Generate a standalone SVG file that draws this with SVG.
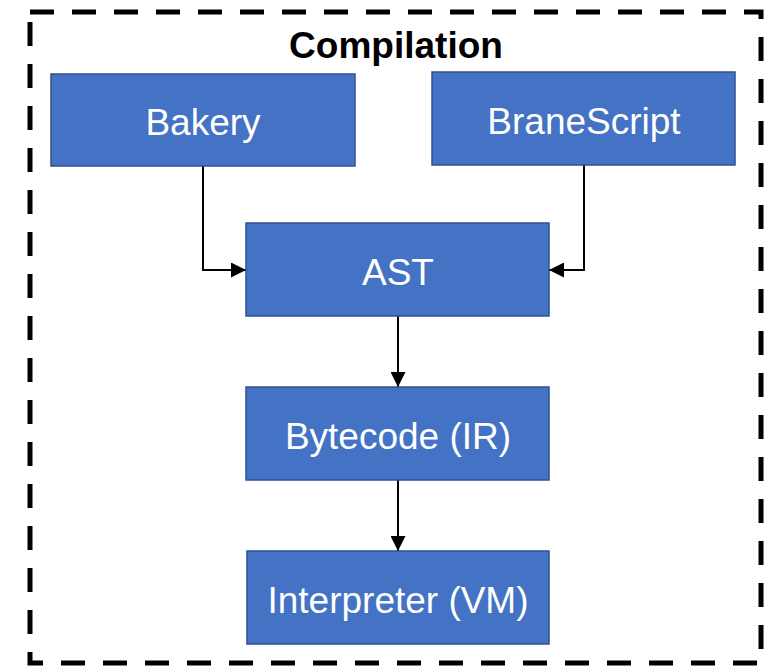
<svg xmlns="http://www.w3.org/2000/svg" width="769" height="667" viewBox="0 0 769 667">
<defs>
<style>
.node rect{fill:#4472C4;stroke:#2F528F;stroke-width:1.5}
.node text{fill:#fff;font-family:"Liberation Sans",Arial,sans-serif;font-size:37px;text-anchor:middle}
.edge{fill:none;stroke:#000;stroke-width:2}
</style>
<marker id="arr" markerWidth="15" markerHeight="15" refX="15" refY="7.5" orient="auto" markerUnits="userSpaceOnUse" viewBox="0 0 15 15">
<path d="M0,0 L15,7.5 L0,15 z" fill="#000"/>
</marker>
</defs>
<rect x="0" y="0" width="769" height="667" fill="#fff"/>
<g id="frame">
<rect x="30" y="12" width="731" height="651" fill="none" stroke="#000" stroke-width="5" stroke-dasharray="24 18"/>
<text x="396" y="58" font-family="Liberation Sans,Arial,sans-serif" font-size="37" font-weight="bold" text-anchor="middle">Compilation</text>
</g>
<g id="connectors">
<path class="edge" d="M203,166 V270 H246" marker-end="url(#arr)"/>
<path class="edge" d="M584,165 V270 H549" marker-end="url(#arr)"/>
<path class="edge" d="M398,316 V387" marker-end="url(#arr)"/>
<path class="edge" d="M398,480 V551" marker-end="url(#arr)"/>
</g>
<g id="bakery" class="node"><rect x="51" y="74" width="304" height="92"/><text x="203" y="135">Bakery</text></g>
<g id="branescript" class="node"><rect x="432" y="72" width="303" height="93"/><text x="584" y="134">BraneScript</text></g>
<g id="ast" class="node"><rect x="246" y="223" width="303" height="93"/><text x="398" y="285">AST</text></g>
<g id="bytecode" class="node"><rect x="246" y="387" width="303" height="93"/><text x="398" y="449">Bytecode (IR)</text></g>
<g id="interpreter" class="node"><rect x="247" y="551" width="302" height="93"/><text x="398" y="613" textLength="261" lengthAdjust="spacingAndGlyphs">Interpreter (VM)</text></g>
</svg>
